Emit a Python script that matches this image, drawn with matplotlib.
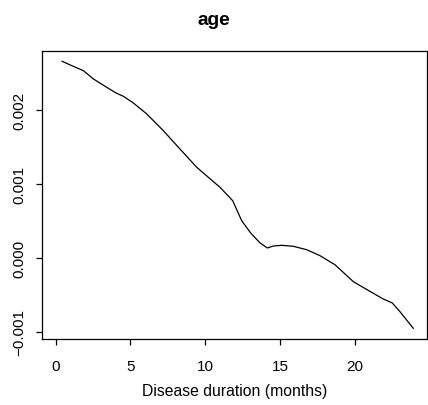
import matplotlib
matplotlib.use("Agg")
import matplotlib.pyplot as plt

plt.rcParams['font.family'] = ['Liberation Sans', 'DejaVu Sans']

# smoothed time-varying coefficient for age
months = [0.42, 1.07, 1.85, 2.52, 3.30, 4.03, 4.52, 5.19, 6.09, 7.20, 8.31,
          9.43, 9.87, 10.99, 11.84, 12.44, 13.04, 13.67, 14.16, 14.56, 15.12,
          15.89, 16.79, 17.68, 18.68, 19.91, 21.02, 21.91, 22.52, 23.03, 23.92]
coef = [0.002654, 0.002595, 0.002527, 0.002415, 0.002316, 0.002226, 0.002181,
        0.002091, 0.001942, 0.001716, 0.001469, 0.001222, 0.001145, 0.000951,
        0.000770, 0.000500, 0.000334, 0.000199, 0.000131, 0.000158, 0.000167,
        0.000154, 0.000108, 0.000027, -0.000095, -0.000324, -0.000455,
        -0.000558, -0.000612, -0.000730, -0.000954]

xticks = [0, 5, 10, 15, 20]
yticks = [-0.001, 0.0, 0.001, 0.002]
ytick_labels = ["\u22120.001", "0.000", "0.001", "0.002"]

fig = plt.figure(figsize=(4.28, 4.06), dpi=100)
ax = fig.add_axes([0.0974, 0.1626, 0.9003, 0.7101])

ax.plot(months, coef, color='black', linewidth=0.9)

ax.set_xlim(-0.94, 24.84)
ax.set_ylim(-0.0010986, 0.002797)
ax.set_xticks(xticks)
ax.set_xticklabels([str(t) for t in xticks])
ax.set_yticks(yticks)
ax.set_yticklabels(ytick_labels, rotation=90, va='center')

for s in ax.spines.values():
    s.set_linewidth(0.9)
ax.tick_params(direction='out', length=4.3, width=0.9, labelsize=11)
ax.tick_params(axis='x', pad=10)
ax.tick_params(axis='y', pad=6.5)

ax.set_xlabel("Disease duration (months)", fontsize=11.3, labelpad=7)
fig.text(0.5, 1 - 25 / 406, "age", fontsize=13.8, fontweight='bold',
         ha='center', va='baseline')

fig.savefig("out.png", dpi=100)
